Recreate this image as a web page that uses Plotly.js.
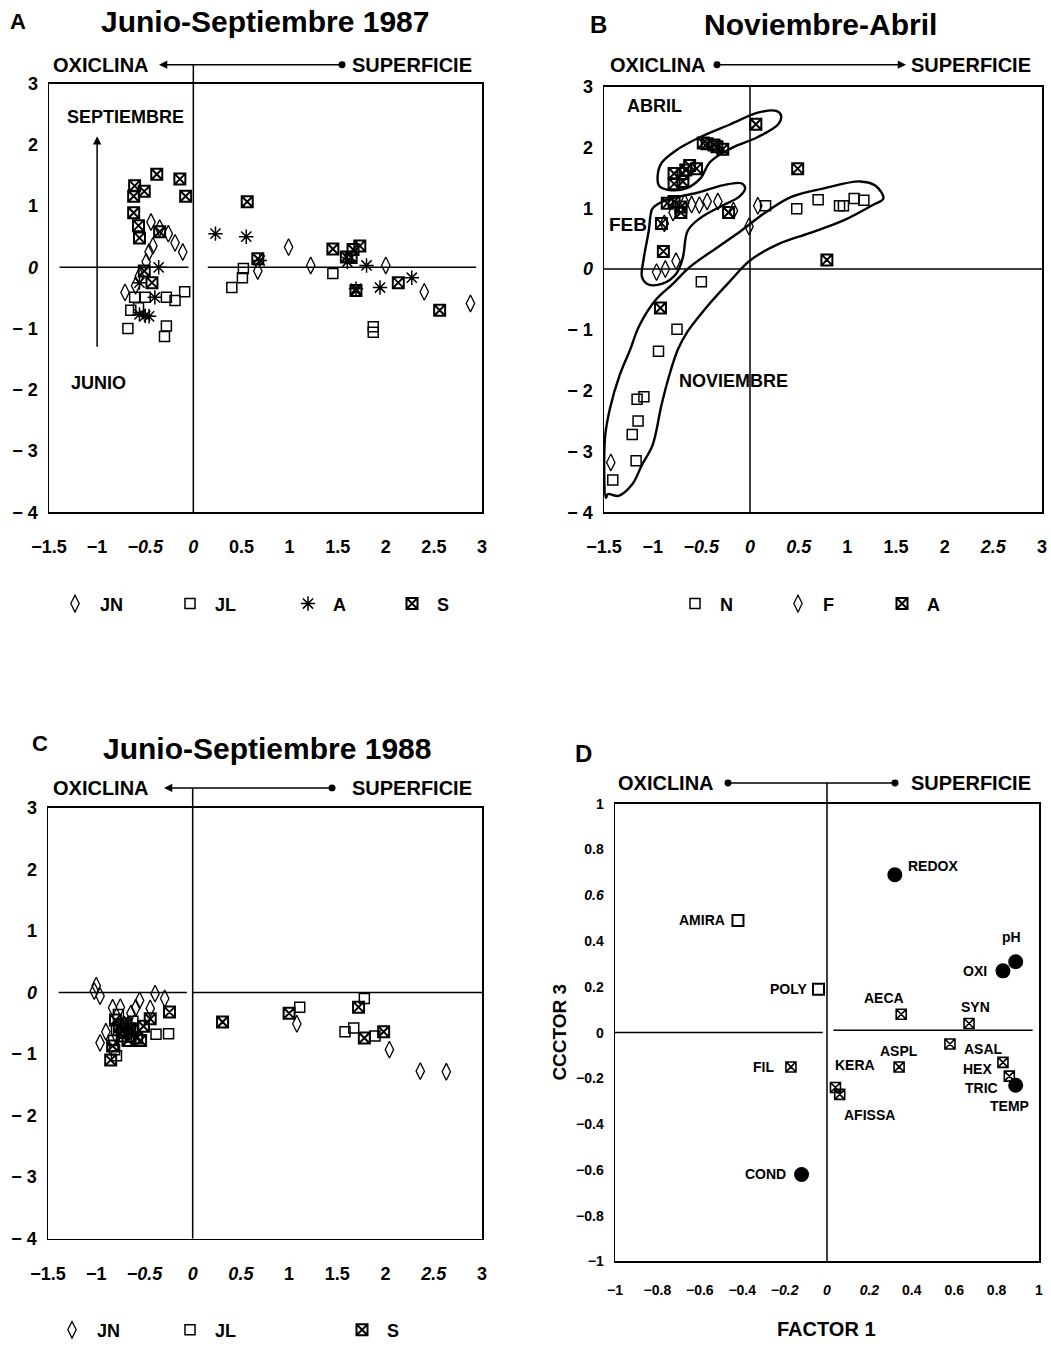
<!DOCTYPE html>
<html><head><meta charset="utf-8">
<script src="https://cdn.plot.ly/plotly-3.0.1.min.js"></script>
<style>html,body{margin:0;padding:0;background:#fff}#chart{width:1051px;height:1349px}</style>
</head><body><div id="chart"></div>
<script>
const W = 1051, H = 1349;
const FONT = 'Liberation Sans, Arial, Helvetica, sans-serif';
const X = v => v / W;
const Y = v => 1 - v / H;

// ---------- Panel A : Junio-Septiembre 1987 ----------
const aJN_x = [-0.44,-0.35,-0.26,-0.19,-0.11,-0.42,-0.46,-0.49,-0.56,-0.60,-0.71,0.99,0.67,1.22,2.00,2.40,2.88];
const aJN_y = [0.74,0.64,0.55,0.40,0.25,0.35,0.25,0.09,-0.14,-0.30,-0.41,0.33,-0.06,0.03,0.03,-0.40,-0.59];
const aJL_x = [-0.61,-0.50,-0.28,-0.19,-0.09,-0.65,-0.57,-0.68,-0.28,-0.30,0.52,0.51,0.40,1.45,1.87,1.87];
const aJL_y = [-0.49,-0.49,-0.49,-0.54,-0.40,-0.70,-0.66,-1.00,-0.96,-1.13,-0.02,-0.17,-0.33,-0.10,-0.97,-1.06];
const aA_x = [-0.36,-0.56,-0.40,-0.56,-0.50,-0.46,0.23,0.55,0.69,1.60,1.80,1.69,1.94,2.27];
const aA_y = [0.00,-0.25,-0.49,-0.77,-0.79,-0.80,0.55,0.50,0.11,0.09,0.03,-0.35,-0.33,-0.17];
const aS_x = [-0.38,-0.14,-0.61,-0.51,-0.62,-0.08,-0.62,-0.57,-0.56,-0.51,-0.43,-0.35,0.56,0.67,1.45,1.59,1.64,1.66,1.73,1.69,2.13,2.56];
const aS_y = [1.52,1.44,1.33,1.24,1.16,1.16,0.89,0.68,0.48,-0.06,-0.25,0.58,1.07,0.14,0.30,0.17,0.16,0.29,0.35,-0.38,-0.25,-0.70];

// ---------- Panel B : Noviembre-Abril ----------
const bN_x = [0.16,0.48,0.70,0.92,0.96,1.07,1.17,-0.50,-0.75,-0.94,-1.16,-1.09,-1.15,-1.21,-1.17,-1.41];
const bN_y = [1.04,0.99,1.14,1.04,1.04,1.16,1.13,-0.21,-0.99,-1.35,-2.14,-2.10,-2.50,-2.72,-3.15,-3.47];
const bF_x = [-0.67,-0.60,-0.52,-0.44,-0.33,-0.79,-0.88,-0.17,0.08,-0.01,-0.76,-0.87,-0.96,-1.43];
const bF_y = [1.09,1.06,1.05,1.11,1.11,0.93,0.75,0.96,1.04,0.70,0.13,0.00,-0.05,-3.18];
const bA_x = [0.06,-0.48,-0.44,-0.37,-0.34,-0.28,-0.78,-0.69,-0.66,-0.62,-0.55,-0.78,-0.69,0.49,-0.85,-0.78,-0.71,-0.71,-0.91,-0.89,-0.22,0.79,-0.92];
const bA_y = [2.38,2.07,2.06,2.04,2.01,1.97,1.57,1.57,1.63,1.70,1.65,1.40,1.44,1.65,1.08,1.11,1.02,0.93,0.75,0.29,0.93,0.15,-0.64];
// hand-drawn group outlines
const abrilOut_x = [-0.95,-0.91,-0.76,-0.51,-0.20,0.08,0.27,0.32,0.29,0.08,-0.20,-0.41,-0.51,-0.65,-0.83,-0.93,-0.95];
const abrilOut_y = [1.49,1.74,1.95,2.17,2.38,2.57,2.60,2.52,2.38,2.17,1.98,1.76,1.49,1.33,1.30,1.36,1.49];
const febOut_x = [-1.00,-0.85,-0.55,-0.27,-0.09,-0.05,-0.11,-0.30,-0.51,-0.64,-0.69,-0.76,-0.90,-1.05,-1.11,-1.09,-1.04,-1.02,-1.00];
const febOut_y = [1.00,1.14,1.25,1.38,1.41,1.33,1.19,1.03,0.84,0.63,0.19,-0.08,-0.24,-0.25,-0.13,0.19,0.63,0.90,1.00];
const novOut_x = [-1.48,-1.49,-1.44,-1.34,-1.23,-1.14,-0.97,-0.79,-0.62,-0.34,-0.09,0.15,0.43,0.77,1.13,1.29,1.37,1.27,0.95,0.61,0.29,0.00,-0.20,-0.41,-0.65,-0.74,-0.83,-0.91,-1.00,-1.11,-1.21,-1.35,-1.46,-1.48];
const novOut_y = [-3.76,-2.78,-2.30,-1.75,-1.32,-0.94,-0.51,-0.24,0.03,0.35,0.63,0.92,1.19,1.33,1.44,1.37,1.16,1.06,0.79,0.59,0.41,0.14,-0.19,-0.56,-1.05,-1.32,-1.75,-2.24,-2.89,-3.22,-3.54,-3.73,-3.70,-3.76];

// ---------- Panel C : Junio-Septiembre 1988 ----------
const cJN_x = [-1.00,-1.02,-0.96,-0.83,-0.75,-0.64,-0.59,-0.55,-0.44,-0.39,-0.29,-0.90,-0.96,-0.71,-0.79,1.08,2.04,2.36,2.63];
const cJN_y = [0.11,0.02,-0.06,-0.25,-0.24,-0.34,-0.25,-0.13,-0.26,-0.02,-0.10,-0.64,-0.82,-0.52,-0.71,-0.51,-0.93,-1.28,-1.29];
const cJL_x = [-0.62,-0.38,-0.25,-0.81,-0.79,-0.77,-0.74,-0.79,-0.69,-0.64,-0.82,1.11,1.78,1.58,1.67,1.89];
const cJL_y = [-0.47,-0.68,-0.67,-0.93,-1.03,-0.36,-0.51,-0.61,-0.66,-0.72,-0.78,-0.24,-0.10,-0.64,-0.58,-0.71];
const cS_x = [-0.24,-0.44,-0.51,-0.54,-0.85,-0.69,-0.65,-0.73,-0.58,-0.76,-0.80,-0.72,-0.67,-0.62,-0.83,0.31,1.00,1.72,1.78,1.98];
const cS_y = [-0.32,-0.43,-0.55,-0.78,-1.10,-0.51,-0.59,-0.71,-0.74,-0.56,-0.45,-0.63,-0.78,-0.60,-0.87,-0.48,-0.34,-0.24,-0.74,-0.64];

// ---------- Panel D : loadings ----------
const dCirc_name = ['REDOX','pH','OXI','TEMP','COND'];
const dCirc_x = [0.32,0.89,0.83,0.89,-0.12];
const dCirc_y = [0.69,0.31,0.27,-0.23,-0.62];
const dSq_name = ['AMIRA','POLY'];
const dSq_x = [-0.42,-0.04];
const dSq_y = [0.49,0.19];
const dBox_name = ['AECA','SYN','ASAL','HEX','TRIC','ASPL','FIL','KERA','AFISSA'];
const dBox_x = [0.35,0.67,0.58,0.83,0.86,0.34,-0.17,0.04,0.06];
const dBox_y = [0.08,0.04,-0.05,-0.13,-0.19,-0.15,-0.15,-0.24,-0.27];
const dLab_text = ['REDOX','AMIRA','pH','OXI','POLY','AECA','SYN','ASAL','HEX','TRIC','TEMP','ASPL','KERA','AFISSA','FIL','COND'];
const dLab_x = [0.50,-0.59,0.87,0.70,-0.18,0.27,0.70,0.74,0.71,0.73,0.86,0.34,0.13,0.20,-0.30,-0.29];
const dLab_y = [0.73,0.49,0.42,0.27,0.19,0.15,0.11,-0.07,-0.16,-0.24,-0.32,-0.08,-0.14,-0.36,-0.15,-0.62];

// ---------- tick labels ----------
const xTickVals = [-1.5,-1,-0.5,0,0.5,1,1.5,2,2.5,3];
const xTickTextA = ['−1.5','−1','<i>−0.5</i>','<i>0</i>','0.5','1','1.5','2','2.5','3'];
const xTickTextB = ['−1.5','−1','<i>−0.5</i>','<i>0</i>','<i>0.5</i>','1','1.5','2','<i>2.5</i>','3'];
const xTickTextC = ['−1.5','−1','<i>−0.5</i>','<i>0</i>','<i>0.5</i>','1','1.5','2','<i>2.5</i>','3'];
const yTickVals = [3,2,1,0,-1,-2,-3,-4];
const yTickText = ['3','2','1','<i>0</i>','− 1','− 2','− 3','− 4'];
const dTickVals = [-1,-0.8,-0.6,-0.4,-0.2,0,0.2,0.4,0.6,0.8,1];
const dXTickText = ['−1','−0.8','−0.6','−0.4','<i>−0.2</i>','<i>0</i>','<i>0.2</i>','0.4','0.6','0.8','1'];
const dYTickText = ['−1','−0.8','−0.6','−0.4','−0.2','0','0.2','0.4','<i>0.6</i>','0.8','1'];

// ---------- styles ----------
const MK = {
  JN: {symbol:'diamond-tall-open', size:12, color:'black', line:{width:1.3, color:'black'}},
  JL: {symbol:'square-open', size:10, color:'black', line:{width:1.5, color:'black'}},
  A:  {symbol:'asterisk-open', size:12, color:'black', line:{width:1.5, color:'black'}},
  S:  {symbol:'square-x-open', size:11, color:'black', line:{width:2, color:'black'}}
};

function pts(x, y, mk, xa, ya, name, legend) {
  return {type:'scatter', mode:'markers', x:x, y:y, xaxis:xa, yaxis:ya, name:name,
          marker:mk, legend:legend, showlegend:!!legend, hoverinfo:'skip', cliponaxis:true};
}
function outline(x, y) {
  return {type:'scatter', mode:'lines', x:x, y:y, xaxis:'x2', yaxis:'y2', showlegend:false,
          line:{color:'black', width:2.4, shape:'spline', smoothing:1}, hoverinfo:'skip'};
}

const traces = [
  pts(aJN_x, aJN_y, MK.JN, 'x', 'y', 'JN', 'legend'),
  pts(aJL_x, aJL_y, MK.JL, 'x', 'y', 'JL', 'legend2'),
  pts(aA_x, aA_y, MK.A, 'x', 'y', 'A', 'legend3'),
  pts(aS_x, aS_y, MK.S, 'x', 'y', 'S', 'legend4'),
  outline(abrilOut_x, abrilOut_y),
  outline(febOut_x, febOut_y),
  outline(novOut_x, novOut_y),
  pts(bN_x, bN_y, MK.JL, 'x2', 'y2', 'N', 'legend5'),
  pts(bF_x, bF_y, MK.JN, 'x2', 'y2', 'F', 'legend6'),
  pts(bA_x, bA_y, MK.S, 'x2', 'y2', 'A', 'legend7'),
  pts(cJN_x, cJN_y, MK.JN, 'x3', 'y3', 'JN', 'legend8'),
  pts(cJL_x, cJL_y, MK.JL, 'x3', 'y3', 'JL', 'legend9'),
  pts(cS_x, cS_y, MK.S, 'x3', 'y3', 'S', 'legend10'),
  pts(dCirc_x, dCirc_y, {symbol:'circle', size:15, color:'black'}, 'x4', 'y4', 'circ', null),
  pts(dSq_x, dSq_y, {symbol:'square-open', size:11, color:'black', line:{width:2, color:'black'}}, 'x4', 'y4', 'sq', null),
  pts(dBox_x, dBox_y, {symbol:'square-x-open', size:10, color:'black', line:{width:1.6, color:'black'}}, 'x4', 'y4', 'box', null)
];

const tf = (size) => ({family:FONT, size:size, color:'black', weight:'bold'});
function xAx(l, r, range, vals, text, size, stand, anchor) {
  return {domain:[X(l), X(r)], range:range, anchor:anchor, tickmode:'array', tickvals:vals, ticktext:text,
          showgrid:false, zeroline:false, showline:true, mirror:true, linecolor:'black', linewidth:1.5,
          ticks:'', tickfont:tf(size), ticklabelstandoff:stand, fixedrange:true};
}
function yAx(t, b, range, vals, text, size, stand, anchor) {
  return {domain:[Y(b), Y(t)], range:range, anchor:anchor, tickmode:'array', tickvals:vals, ticktext:text,
          showgrid:false, zeroline:false, showline:true, mirror:true, linecolor:'black', linewidth:1.5,
          ticks:'', tickfont:tf(size), ticklabelstandoff:stand, fixedrange:true};
}

function leg(xc, yc) {
  return {x:X(xc - 25), y:Y(yc), xanchor:'left', yanchor:'middle', orientation:'h', itemwidth:40,
          bgcolor:'rgba(0,0,0,0)', borderwidth:0, font:tf(18), itemclick:false, itemdoubleclick:false};
}

function txt(text, xp, yp, size, anchor) {
  return {text:text, xref:'paper', yref:'paper', x:X(xp), y:Y(yp), showarrow:false,
          xanchor:anchor || 'center', yanchor:'middle', font:tf(size)};
}
function dtxt(text, x, y, xa, ya, size) {
  return {text:text, xref:xa, yref:ya, x:x, y:y, showarrow:false, xanchor:'center', yanchor:'middle', font:tf(size)};
}
function arrowHead(xHead, yp, dx) {
  return {text:'', xref:'paper', yref:'paper', x:X(xHead), y:Y(yp), ax:dx, ay:0, showarrow:true,
          arrowhead:2, arrowsize:1.1, arrowwidth:1.5, arrowcolor:'black'};
}
function dot(xp, yp) {
  return {type:'circle', xref:'paper', yref:'paper', x0:X(xp-3.5), x1:X(xp+3.5), y0:Y(yp+3.5), y1:Y(yp-3.5),
          fillcolor:'black', line:{color:'black', width:0}};
}
function hline(xa, ya, x0, x1, y) {
  return {type:'line', xref:xa, yref:ya, x0:x0, x1:x1, y0:y, y1:y, line:{color:'black', width:1.5}};
}
function vline(xa, y0p, y1p) {
  return {type:'line', xref:xa, yref:'paper', x0:0, x1:0, y0:Y(y0p), y1:Y(y1p), line:{color:'black', width:1.5}};
}

const annotations = [
  // panel titles
  txt('A', 18, 22, 22), txt('Junio-Septiembre 1987', 265, 22, 30),
  txt('B', 598, 25, 24), txt('Noviembre-Abril', 820, 25, 30),
  txt('C', 40, 747, 22), txt('Junio-Septiembre 1988', 267, 752, 30),
  txt('D', 583, 757, 24),
  // header arrows
  txt('OXICLINA', 151, 65, 20, 'right'), txt('SUPERFICIE', 350, 65, 20, 'left'), arrowHead(159, 65, 183),
  txt('OXICLINA', 708, 65, 20, 'right'), txt('SUPERFICIE', 909, 65, 20, 'left'), arrowHead(906, 65, -189),
  txt('OXICLINA', 151, 792, 20, 'right'), txt('SUPERFICIE', 350, 792, 20, 'left'), arrowHead(164, 792, 168),
  txt('OXICLINA', 716, 787, 20, 'right'), txt('SUPERFICIE', 909, 787, 20, 'left'),
  // panel A inner texts and arrow
  dtxt('SEPTIEMBRE', -0.71, 2.45, 'x', 'y', 18), dtxt('JUNIO', -0.99, -1.89, 'x', 'y', 18),
  {text:'', xref:'x', yref:'y', x:-1, y:2.14, axref:'x', ayref:'y', ax:-1, ay:-1.32, showarrow:true,
   arrowhead:2, arrowsize:1.1, arrowwidth:1.5, arrowcolor:'black'},
  // panel B inner texts
  dtxt('ABRIL', -0.98, 2.68, 'x2', 'y2', 18), dtxt('FEB', -1.25, 0.73, 'x2', 'y2', 19),
  dtxt('NOVIEMBRE', -0.17, -1.84, 'x2', 'y2', 18),
  // panel D axis titles
  txt('FACTOR 1', 826, 1336, 20),
  {text:'CCCTOR 3', xref:'paper', yref:'paper', x:X(560), y:Y(1038), showarrow:false, textangle:-90,
   xanchor:'center', yanchor:'middle', font:tf(19)}
];
for (let i = 0; i < dLab_text.length; i++) {
  annotations.push(dtxt(dLab_text[i], dLab_x[i], dLab_y[i], 'x4', 'y4', 14));
}

const shapes = [
  vline('x', 515, 65), hline('x', 'y', -1.39, -0.05, 0), hline('x', 'y', 0.15, 2.94, 0),
  vline('x2', 515, 87), hline('x2', 'y2', -1.5, 3, 0),
  vline('x3', 1245, 792), hline('x3', 'y3', -1.39, -0.06, 0), hline('x3', 'y3', 0, 3, 0),
  vline('x4', 1268, 787), hline('x4', 'y4', -1, -0.02, 0), hline('x4', 'y4', 0.03, 0.97, 0.01),
  {type:'line', xref:'paper', yref:'paper', x0:X(728), x1:X(895), y0:Y(787), y1:Y(787), line:{color:'black', width:1.5}},
  dot(342, 65), dot(717, 65), dot(332, 792), dot(728, 787), dot(895, 787)
];

const layout = {
  width:W, height:H, autosize:false, margin:{l:0, r:0, t:0, b:0},
  paper_bgcolor:'white', plot_bgcolor:'white', showlegend:true,
  font:{family:FONT, color:'black'},
  xaxis: xAx(49, 482, [-1.5, 3], xTickVals, xTickTextA, 18, 18, 'y'),
  yaxis: yAx(84, 515, [-4, 3], yTickVals, yTickText, 18, 6, 'x'),
  xaxis2: xAx(604, 1042, [-1.5, 3], xTickVals, xTickTextB, 18, 18, 'y2'),
  yaxis2: yAx(87, 515, [-4, 3], yTickVals, yTickText, 18, 6, 'x2'),
  xaxis3: xAx(48, 482, [-1.5, 3], xTickVals, xTickTextC, 18, 18, 'y3'),
  yaxis3: yAx(812, 1245, [-4, 3], yTickVals, yTickText, 18, 6, 'x3'),
  xaxis4: xAx(615, 1039, [-1, 1], dTickVals, dXTickText, 14, 15, 'y4'),
  yaxis4: yAx(808, 1268, [-1, 1], dTickVals, dYTickText, 14, 7, 'x4'),
  legend: leg(75, 607), legend2: leg(190, 607), legend3: leg(308, 607), legend4: leg(412, 607),
  legend5: leg(695, 607), legend6: leg(798, 607), legend7: leg(902, 607),
  legend8: leg(72, 1337), legend9: leg(190, 1337), legend10: leg(362, 1337),
  annotations: annotations, shapes: shapes
};

Plotly.newPlot('chart', traces, layout, {staticPlot:true, displayModeBar:false});
</script></body></html>
